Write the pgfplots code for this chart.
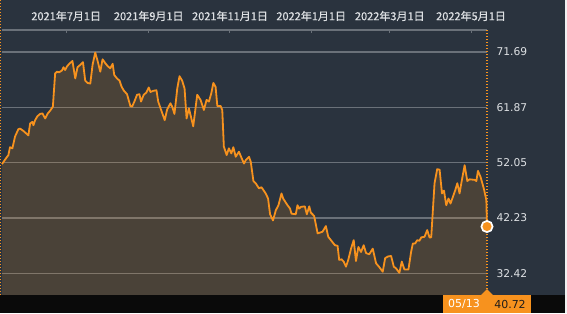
\documentclass[border=0pt]{standalone}
\usepackage{pgfplots}
\pgfplotsset{compat=1.18}
\usepackage{pgfplotstable}
\usepackage{fontspec}
\setmainfont{DejaVu Sans}
\newfontfamily\cjk[FakeBold=0.5]{Noto Sans CJK JP}
\definecolor{navy}{RGB}{42,51,62}
\definecolor{gridgray}{RGB}{106,113,121}
\definecolor{lineorange}{RGB}{247,146,30}
\definecolor{ticktext}{RGB}{222,225,228}
\definecolor{bandblack}{RGB}{10,10,10}
\definecolor{boxtext}{RGB}{34,30,26}

\pgfplotstableread{
x y
-48.2 51.8
-45.9 52.6
-43.4 53.4
-42.2 54.8
-40.4 54.6
-38.4 56.7
-35.9 58.0
-34.6 58.1
-32.2 57.7
-28.4 56.9
-27.1 59.0
-25.4 59.3
-24.6 58.7
-23.3 59.6
-21.6 60.3
-19.6 60.7
-17.8 60.8
-15.8 59.9
-14.1 60.7
-12.0 61.3
-10.0 62.0
-8.3 67.9
-7.0 68.2
-5.3 68.1
-3.2 68.4
-2.0 69.0
-0.8 68.5
0.5 69.1
2.3 69.6
4.7 70.1
6.8 67.0
8.5 69.0
10.5 69.4
12.6 69.9
14.3 66.6
16.0 66.2
18.1 66.1
19.8 69.4
21.8 71.6
23.6 70.1
25.6 68.2
27.3 70.4
29.4 69.7
31.1 69.2
33.1 68.8
34.9 69.6
36.1 67.6
38.2 67.0
40.1 66.6
41.5 65.6
43.1 64.9
45.7 64.2
48.2 62.1
49.5 62.0
51.2 62.9
53.2 64.1
55.0 64.2
56.2 62.9
58.2 64.1
60.2 64.5
62.0 65.4
63.3 64.6
65.3 64.8
67.8 64.9
69.1 62.9
71.3 61.4
74.0 59.6
75.8 61.5
78.3 62.6
79.6 62.0
81.3 60.7
83.4 65.2
85.1 67.4
87.1 66.6
88.9 65.2
90.4 59.9
92.1 61.7
93.4 60.5
95.4 58.5
97.1 61.7
98.4 64.1
100.9 63.2
103.4 61.4
105.4 63.2
107.2 62.9
109.0 64.4
110.5 66.2
112.2 65.5
113.5 62.1
116.0 62.1
117.2 61.4
118.4 54.9
120.5 53.4
122.2 54.6
124.0 53.7
125.5 54.8
127.3 53.1
129.7 54.0
131.5 53.0
133.5 51.9
134.8 52.5
137.3 53.1
138.6 52.2
140.6 48.8
142.3 48.4
144.8 47.5
146.6 47.7
148.1 47.2
149.8 46.6
151.6 45.7
153.1 42.9
155.3 41.8
157.4 43.6
159.4 44.5
161.7 46.6
162.9 45.7
166.2 44.5
168.1 43.9
169.2 43.0
172.4 42.9
173.7 44.5
174.9 43.9
176.2 44.2
179.2 44.3
180.7 42.9
182.5 44.3
183.7 43.2
186.2 42.6
188.8 39.5
192.5 39.8
195.0 40.8
196.8 38.9
198.8 38.3
201.8 37.4
203.8 37.3
205.0 34.8
206.8 34.9
208.4 34.5
210.1 33.6
211.8 34.8
213.9 36.8
215.9 38.3
217.6 34.6
219.4 37.1
221.4 36.2
223.4 37.4
225.2 36.0
227.6 35.8
230.2 36.8
232.7 34.2
235.2 33.5
237.7 32.7
239.5 35.1
241.5 35.4
244.0 35.5
246.0 33.6
247.7 33.3
250.2 32.5
252.0 34.5
254.0 33.1
257.0 33.1
259.0 36.2
260.3 37.7
262.0 37.7
263.6 38.3
265.3 38.2
266.6 38.8
269.1 38.9
271.1 40.1
272.8 38.8
274.1 38.8
276.6 48.4
278.6 50.9
280.4 50.8
282.2 46.6
283.7 47.1
285.4 44.5
287.1 45.7
288.6 44.8
290.4 46.0
292.2 47.2
293.7 48.4
295.4 46.6
296.7 48.4
299.2 51.6
301.2 48.8
302.9 49.1
306.7 49.0
308.0 48.8
309.2 50.6
311.2 49.5
313.8 47.3
315.5 45.4
316.0 40.72
}\pricedata

\begin{document}
\begin{tikzpicture}[x=1pt,y=1pt]
\fill[navy] (0,0) rectangle (565,313);
\fill[white!88!gray] (565,0) rectangle (567,313);
\fill[bandblack] (0,0) rectangle (565,18);
\draw[lineorange, line width=1.2pt, dash pattern=on 1.3pt off 1.7pt] (0.6,18) -- (0.6,313);
\begin{axis}[
  at={(2pt,18pt)}, anchor=south west,
  scale only axis, width=485pt, height=265pt,
  xmin=-48.2, xmax=316, ymin=28.57, ymax=75.60,
  clip=false,
  axis x line*=top, axis y line*=right,
  axis line style={-},
  x axis line style={draw=gridgray, line width=1.3pt},
  y axis line style={draw=none},
  xtick={0,62,123,184,243,304},
  xticklabels={2021年7月1日,2021年9月1日,2021年11月1日,2022年1月1日,2022年3月1日,2022年5月1日},
  ytick={32.42,42.23,52.05,61.87,71.69},
  yticklabels={32.42,42.23,52.05,61.87,71.69},
  tick align=inside, major tick length=3.5pt,
  xtick style={draw=gridgray, line width=1pt},
  ytick style={draw=none},
  ymajorgrids, grid style={draw=gridgray, line width=1.2pt},
  xticklabel style={font=\cjk\fontsize{11}{12}\selectfont, text=ticktext, anchor=center, yshift=14pt},
  yticklabel style={font=\fontsize{10.7}{12}\selectfont, text=ticktext, anchor=west, xshift=6pt},
]
\addplot[draw=none, fill=lineorange, fill opacity=0.16] table {\pricedata} -- (axis cs:316,28.57) -- (axis cs:-48.2,28.57) -- cycle;
\addplot[lineorange, line width=1.1pt, dash pattern=on 1.3pt off 1.7pt] coordinates {(316,28.57) (316,75.60)};
\addplot[lineorange, line width=1.8pt, line join=round] table {\pricedata};
\addplot[only marks, mark=*, mark size=5.6pt, mark options={fill=lineorange, draw=white, line width=1.7pt}] coordinates {(316,40.72)};
\end{axis}
\fill[lineorange] (443,0) rectangle (531,18);
\fill[lineorange] (481,17.9) -- (487,24) -- (493,17.9) -- cycle;
\node[text=white, font=\fontsize{11}{12}\selectfont, anchor=center] at (464,9) {05/13};
\node[text=boxtext, font=\fontsize{11}{12}\selectfont, anchor=center] at (510,9) {40.72};
\pgfresetboundingbox
\path[use as bounding box] (0,0) rectangle (567,313);
\end{tikzpicture}
\end{document}
